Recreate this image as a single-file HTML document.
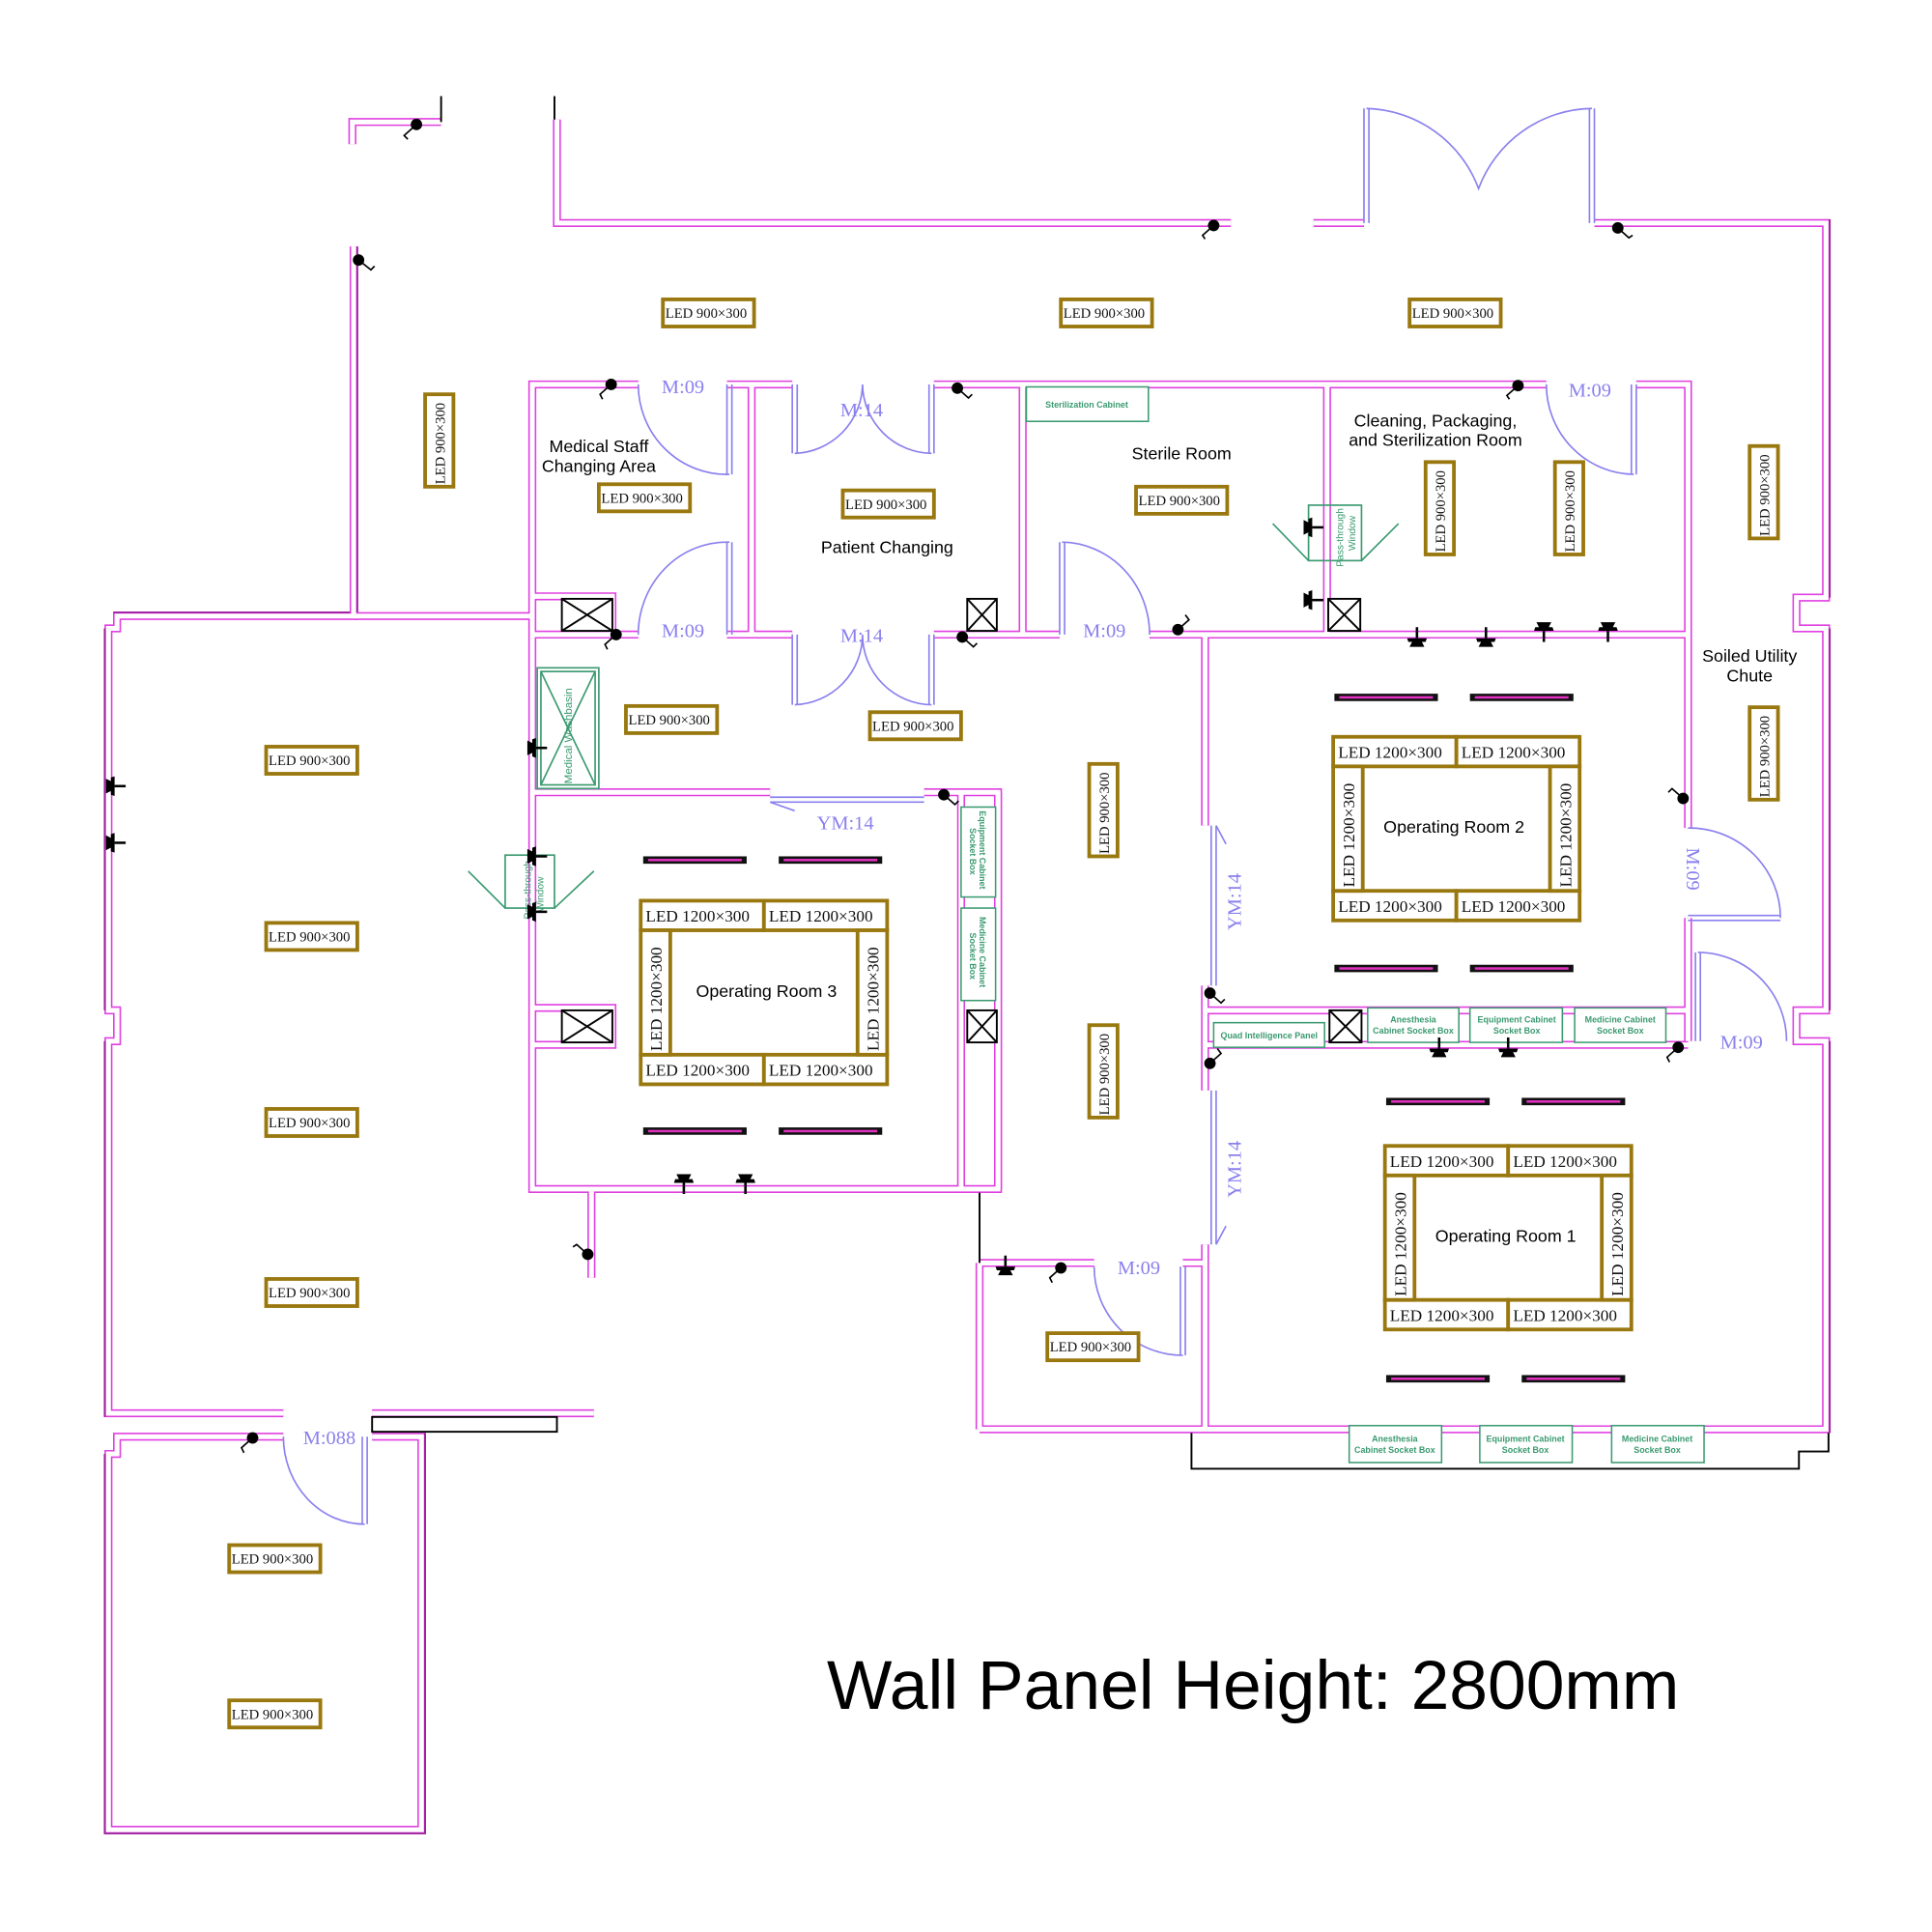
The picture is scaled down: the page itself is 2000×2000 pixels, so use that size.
<!DOCTYPE html>
<html><head><meta charset="utf-8"><style>
html,body{margin:0;padding:0;background:#fff;}
svg{display:block;}
.d{fill:none;stroke:#8a80ee;stroke-width:1.3;}
.led rect{fill:#fff;stroke:#9a7810;stroke-width:3;}
.lt{font-family:"Liberation Serif",serif;font-size:11.5px;fill:#111;}
.bt{font-family:"Liberation Serif",serif;font-size:13.5px;fill:#111;}
.ml{font-family:"Liberation Serif",serif;font-size:16px;fill:#8a80ee;}
.rl{font-family:"Liberation Sans",sans-serif;font-size:14px;fill:#000;}
.g{fill:#fff;stroke:#3a9a70;stroke-width:1.2;}
.gt{font-family:"Liberation Sans",sans-serif;font-size:7px;fill:#3a9a70;font-weight:bold;}
.bk{fill:none;stroke:#000;stroke-width:1.5;}
</style></head><body>
<svg width="2000" height="2000" viewBox="0 0 1568 1568" xmlns="http://www.w3.org/2000/svg">
<defs>
<g id="walls" fill="none">
<path d="M286,117 V99 H358"/>
<path d="M452,97 V181 H999"/>
<path d="M1066,181 H1107"/>
<path d="M1294,181 H1482 V485 H1458 V510 H1482 V820 H1458 V845 H1482 V1160 H795"/>
<path d="M287,200 V500 H95 V510 H88 V820 H95 V845 H88 V1147 H230"/>
<path d="M302,1147 H482"/>
<path d="M230,1166 H95 V1180 H88 V1485 H342 V1166 H302"/>
<path d="M430,500 H287"/>
<path d="M518,312 H432 V965 H810 V643"/>
<path d="M590,312 H643"/>
<path d="M758,312 H1255"/>
<path d="M1328,312 H1370 V672"/>
<path d="M1370,745 V845"/>
<path d="M610,312 V515"/>
<path d="M830,312 V515"/>
<path d="M1077,312 V515"/>
<path d="M432,515 H518"/>
<path d="M590,515 H643"/>
<path d="M758,515 H860"/>
<path d="M933,515 H1370"/>
<path d="M432,484 H497 V515"/>
<path d="M432,818 H497 V848 H432"/>
<path d="M432,643 H625"/>
<path d="M750,643 H810 V965"/>
<path d="M780,643 V965"/>
<path d="M480,965 V1037"/>
<path d="M795,1025 H888"/>
<path d="M960,1025 H978"/>
<path d="M795,1025 V1160"/>
<path d="M978,515 V670"/>
<path d="M978,800 V885"/>
<path d="M978,1010 V1160"/>
<path d="M978,820 H1370"/>
<path d="M978,848 H1370"/>
</g>
<g id="or">
<g class="led">
<rect x="0" y="0" width="100" height="24"/><rect x="100" y="0" width="100" height="24"/>
<rect x="0" y="125" width="100" height="24"/><rect x="100" y="125" width="100" height="24"/>
<rect x="0" y="24" width="24" height="101"/><rect x="176" y="24" width="24" height="101"/>
</g>
<g class="bt">
<text x="4" y="17">LED  1200×300</text><text x="104" y="17">LED  1200×300</text>
<text x="4" y="142">LED  1200×300</text><text x="104" y="142">LED  1200×300</text>
<text transform="translate(17,122) rotate(-90)">LED  1200×300</text>
<text transform="translate(193,122) rotate(-90)">LED  1200×300</text>
</g>
</g>
<g id="bar"><rect x="0" y="0" width="84" height="6" fill="#111"/><rect x="4" y="2" width="76" height="2" fill="#e030c0"/></g>
<g id="lamp" fill="#000"><rect x="-1" y="-9" width="2" height="9"/><path d="M-8,0 H8 L7,3 H4 L6,7 H-6 L-4,3 H-7 Z"/></g>
</defs>
<use href="#walls" stroke="#e040e0" stroke-width="6.5"/>
<use href="#walls" stroke="#ffffff" stroke-width="4"/>
<g fill="none" stroke="#a020a0" stroke-width="1.5">
<path d="M1485,178 V485 M1485,510 V820 M1485,845 V1163"/>
<path d="M85,510 V820 M85,845 V1150 M85,1180 V1488 H345 V1163"/>
<path d="M92,497 H284 M290,200 V497"/>
</g>
<g class="bk">
<path d="M358,78 V99"/>
<path d="M450,78 V97"/>
<path d="M967,1163 V1192 H1460 V1178 H1484 V1163"/>
<rect x="302" y="1150" width="150" height="12"/>
<path d="M795,968 V1025"/>
</g>
<g class="d">
<path d="M1107,88 V181 M1111,88 V181 M1294,88 V181 M1290,88 V181"/>
<path d="M1109,88 A100,100 0 0 1 1200,153 A100,100 0 0 1 1292,88"/>
<path d="M590,312 V385 M594,312 V385 M518,312 A72,73 0 0 0 592,385"/>
<path d="M590,440 V515 M594,440 V515 M592,440 A72,75 0 0 0 518,515"/>
<path d="M643,312 V368 M647,312 V368 M758,312 V368 M754,312 V368"/>
<path d="M645,368 A57,57 0 0 0 700,312 A57,57 0 0 0 756,368"/>
<path d="M643,515 V572 M647,515 V572 M758,515 V572 M754,515 V572"/>
<path d="M645,572 A57,57 0 0 0 700,515 A57,57 0 0 0 756,572"/>
<path d="M860,440 V515 M864,440 V515 M862,440 A72,75 0 0 1 933,515"/>
<path d="M1328,312 V385 M1324,312 V385 M1255,312 A72,73 0 0 0 1326,385"/>
<path d="M1370,743 H1445 M1370,747 H1445 M1370,672 A74,73 0 0 1 1445,745"/>
<path d="M1376,773 V845 M1380,773 V845 M1378,773 A72,72 0 0 1 1450,845"/>
<path d="M958,1028 V1100 M962,1028 V1100 M888,1028 A72,72 0 0 0 960,1100"/>
<path d="M294,1166 V1237 M298,1166 V1237 M230,1166 A66,71 0 0 0 296,1237"/>
<path d="M625,647 H750 M625,651 H750 M625,651 L645,658"/>
<path d="M983,670 V800 M987,670 V800 M987,670 L995,685"/>
<path d="M983,885 V1010 M987,885 V1010 M987,1010 L995,995"/>
</g>
<g class="ml">
<text x="537" y="319">M:09</text>
<text x="682" y="338">M:14</text>
<text x="1273" y="322">M:09</text>
<text x="537" y="517">M:09</text>
<text x="682" y="521">M:14</text>
<text x="879" y="517">M:09</text>
<text x="663" y="673">YM:14</text>
<text x="907" y="1034">M:09</text>
<text x="1396" y="851">M:09</text>
<text x="246" y="1172">M:088</text>
<text transform="translate(1007,755) rotate(-90)">YM:14</text>
<text transform="translate(1007,972) rotate(-90)">YM:14</text>
<text transform="translate(1369,688) rotate(90)">M:09</text>
</g>
<g class="led">
<rect x="538" y="243" width="74" height="22"/><rect x="861" y="243" width="74" height="22"/><rect x="1144" y="243" width="74" height="22"/>
<rect x="486" y="393" width="74" height="22"/><rect x="684" y="398" width="74" height="22"/><rect x="922" y="395" width="74" height="22"/>
<rect x="508" y="573" width="74" height="22"/><rect x="706" y="578" width="74" height="22"/>
<rect x="216" y="606" width="74" height="22"/><rect x="216" y="749" width="74" height="22"/><rect x="216" y="900" width="74" height="22"/><rect x="216" y="1038" width="74" height="22"/>
<rect x="186" y="1254" width="74" height="22"/><rect x="186" y="1380" width="74" height="22"/><rect x="850" y="1082" width="74" height="22"/>
<rect x="345" y="320" width="23" height="75"/><rect x="1157" y="375" width="23" height="75"/><rect x="1262" y="375" width="23" height="75"/>
<rect x="1420" y="362" width="23" height="75"/><rect x="1420" y="574" width="23" height="75"/><rect x="884" y="620" width="23" height="75"/><rect x="884" y="832" width="23" height="75"/>
</g>
<g class="lt">
<text x="540" y="258">LED  900×300</text><text x="863" y="258">LED  900×300</text><text x="1146" y="258">LED  900×300</text>
<text x="488" y="408">LED  900×300</text><text x="686" y="413">LED  900×300</text><text x="924" y="410">LED  900×300</text>
<text x="510" y="588">LED  900×300</text><text x="708" y="593">LED  900×300</text>
<text x="218" y="621">LED  900×300</text><text x="218" y="764">LED  900×300</text><text x="218" y="915">LED  900×300</text><text x="218" y="1053">LED  900×300</text>
<text x="188" y="1269">LED  900×300</text><text x="188" y="1395">LED  900×300</text><text x="852" y="1097">LED  900×300</text>
<text transform="translate(361,393) rotate(-90)">LED  900×300</text>
<text transform="translate(1173,448) rotate(-90)">LED  900×300</text>
<text transform="translate(1278,448) rotate(-90)">LED  900×300</text>
<text transform="translate(1436,435) rotate(-90)">LED  900×300</text>
<text transform="translate(1436,647) rotate(-90)">LED  900×300</text>
<text transform="translate(900,693) rotate(-90)">LED  900×300</text>
<text transform="translate(900,905) rotate(-90)">LED  900×300</text>
</g>
<use href="#or" transform="translate(1082,598)"/>
<use href="#or" transform="translate(520,731)"/>
<use href="#or" transform="translate(1124,930)"/>
<g class="rl" text-anchor="middle">
<text x="1180" y="676">Operating Room 2</text>
<text x="622" y="809">Operating Room 3</text>
<text x="1222" y="1008">Operating Room 1</text>
<text x="486" y="367">Medical Staff</text><text x="486" y="383">Changing Area</text>
<text x="720" y="449">Patient Changing</text>
<text x="959" y="373">Sterile Room</text>
<text x="1165" y="346">Cleaning, Packaging,</text><text x="1165" y="362">and Sterilization Room</text>
<text x="1420" y="537">Soiled Utility</text><text x="1420" y="553">Chute</text>
<text x="1017" y="1387" style="font-size:56px">Wall Panel Height: 2800mm</text>
</g>
<use href="#bar" x="522" y="695"/><use href="#bar" x="632" y="695"/><use href="#bar" x="522" y="915"/><use href="#bar" x="632" y="915"/>
<use href="#bar" x="1083" y="563"/><use href="#bar" x="1193" y="563"/><use href="#bar" x="1083" y="783"/><use href="#bar" x="1193" y="783"/>
<use href="#bar" x="1125" y="891"/><use href="#bar" x="1235" y="891"/><use href="#bar" x="1125" y="1116"/><use href="#bar" x="1235" y="1116"/>
<rect class="g" x="833" y="314" width="99" height="28"/>
<text class="gt" x="882" y="331" text-anchor="middle">Sterilization Cabinet</text>
<rect class="g" x="985" y="830" width="90" height="20"/>
<text class="gt" x="1030" y="843" text-anchor="middle">Quad Intelligence Panel</text>
<g class="gt" text-anchor="middle">
<rect class="g" x="1110" y="818" width="74" height="28"/><text x="1147" y="830">Anesthesia</text><text x="1147" y="839">Cabinet Socket Box</text>
<rect class="g" x="1193" y="818" width="75" height="28"/><text x="1231" y="830">Equipment Cabinet</text><text x="1231" y="839">Socket Box</text>
<rect class="g" x="1278" y="818" width="74" height="28"/><text x="1315" y="830">Medicine Cabinet</text><text x="1315" y="839">Socket Box</text>
<rect class="g" x="1095" y="1157" width="75" height="30"/><text x="1132" y="1170">Anesthesia</text><text x="1132" y="1179">Cabinet Socket Box</text>
<rect class="g" x="1201" y="1157" width="75" height="30"/><text x="1238" y="1170">Equipment Cabinet</text><text x="1238" y="1179">Socket Box</text>
<rect class="g" x="1308" y="1157" width="75" height="30"/><text x="1345" y="1170">Medicine Cabinet</text><text x="1345" y="1179">Socket Box</text>
</g>
<rect class="g" x="780" y="655" width="28" height="73"/>
<rect class="g" x="780" y="737" width="28" height="75"/>
<text class="gt" transform="translate(795,658) rotate(90)">Equipment Cabinet</text>
<text class="gt" transform="translate(787,672) rotate(90)">Socket Box</text>
<text class="gt" transform="translate(795,744) rotate(90)">Medicine Cabinet</text>
<text class="gt" transform="translate(787,757) rotate(90)">Socket Box</text>
<g stroke="#3a9a70" stroke-width="1.3" fill="none">
<rect x="436" y="542" width="50" height="98"/><rect x="439" y="545" width="44" height="92"/>
<path d="M439,545 L483,637 M483,545 L439,637"/>
<rect x="410" y="694" width="40" height="43"/><path d="M380,707 L410,737 M482,707 L450,737"/>
<rect x="1062" y="410" width="43" height="45"/><path d="M1033,425 L1062,455 M1135,425 L1105,455"/>
</g>
<text class="gt" style="font-weight:normal;font-size:9px" transform="translate(464,636) rotate(-90)">Medical Washbasin</text>
<text class="gt" style="font-weight:normal;font-size:8px" transform="translate(431,746) rotate(-90)">Pass-through</text>
<text class="gt" style="font-weight:normal;font-size:8px" transform="translate(441,740) rotate(-90)">Window</text>
<text class="gt" style="font-weight:normal;font-size:8px" transform="translate(1090,460) rotate(-90)">Pass-through</text>
<text class="gt" style="font-weight:normal;font-size:8px" transform="translate(1100,447) rotate(-90)">Window</text>
<g stroke="#000" stroke-width="1.5" fill="#fff">
<rect x="456" y="486" width="41" height="26"/><path d="M456,486 L497,512 M497,486 L456,512"/>
<rect x="456" y="820" width="41" height="26"/><path d="M456,820 L497,846 M497,820 L456,846"/>
<rect x="785" y="486" width="24" height="26"/><path d="M785,486 L809,512 M809,486 L785,512"/>
<rect x="785" y="820" width="24" height="26"/><path d="M785,820 L809,846 M809,820 L785,846"/>
<rect x="1078" y="486" width="26" height="26"/><path d="M1078,486 L1104,512 M1104,486 L1078,512"/>
<rect x="1079" y="820" width="26" height="26"/><path d="M1079,820 L1105,846 M1105,820 L1079,846"/>
</g>
<g fill="#000" stroke="#000" stroke-width="1.3">
<circle cx="338" cy="101" r="4"/><path d="M338,101 L328,110 L331,113" fill="none"/>
<circle cx="291" cy="211" r="4"/><path d="M291,211 L301,219 L304,216" fill="none"/>
<circle cx="985" cy="183" r="4"/><path d="M985,183 L976,191 L978,194" fill="none"/>
<circle cx="1313" cy="185" r="4"/><path d="M1313,185 L1322,193 L1325,191" fill="none"/>
<circle cx="496" cy="312" r="4"/><path d="M496,312 L487,320 L489,324" fill="none"/>
<circle cx="777" cy="315" r="4"/><path d="M777,315 L786,323 L789,320" fill="none"/>
<circle cx="1232" cy="313" r="4"/><path d="M1232,313 L1223,321 L1225,324" fill="none"/>
<circle cx="500" cy="515" r="4"/><path d="M500,515 L491,523 L493,527" fill="none"/>
<circle cx="781" cy="517" r="4"/><path d="M781,517 L790,525 L793,522" fill="none"/>
<circle cx="956" cy="511" r="4"/><path d="M956,511 L965,503 L962,499" fill="none"/>
<circle cx="766" cy="645" r="4"/><path d="M766,645 L775,653 L778,650" fill="none"/>
<circle cx="1366" cy="648" r="4"/><path d="M1366,648 L1357,640 L1354,643" fill="none"/>
<circle cx="982" cy="806" r="4"/><path d="M982,806 L991,814 L994,811" fill="none"/>
<circle cx="982" cy="863" r="4"/><path d="M982,863 L991,855 L988,851" fill="none"/>
<circle cx="1362" cy="850" r="4"/><path d="M1362,850 L1353,858 L1355,862" fill="none"/>
<circle cx="477" cy="1018" r="4"/><path d="M477,1018 L468,1010 L465,1012" fill="none"/>
<circle cx="861" cy="1029" r="4"/><path d="M861,1029 L852,1037 L854,1041" fill="none"/>
<circle cx="205" cy="1167" r="4"/><path d="M205,1167 L196,1175 L198,1179" fill="none"/>
</g>
<g fill="#000">
<use href="#lamp" transform="translate(555,960) rotate(180)"/>
<use href="#lamp" transform="translate(605,960) rotate(180)"/>
<use href="#lamp" transform="translate(1150,518)"/>
<use href="#lamp" transform="translate(1206,518)"/>
<use href="#lamp" transform="translate(1253,512) rotate(180)"/>
<use href="#lamp" transform="translate(1305,512) rotate(180)"/>
<use href="#lamp" transform="translate(1168,851)"/>
<use href="#lamp" transform="translate(1224,851)"/>
<use href="#lamp" transform="translate(816,1028)"/>
<use href="#lamp" transform="translate(435,607) rotate(90)"/>
<use href="#lamp" transform="translate(435,695) rotate(90)"/>
<use href="#lamp" transform="translate(435,740) rotate(90)"/>
<use href="#lamp" transform="translate(93,638) rotate(90)"/>
<use href="#lamp" transform="translate(93,684) rotate(90)"/>
<use href="#lamp" transform="translate(1065,428) rotate(90)"/>
<use href="#lamp" transform="translate(1065,487) rotate(90)"/>
</g>
</svg>
</body></html>
